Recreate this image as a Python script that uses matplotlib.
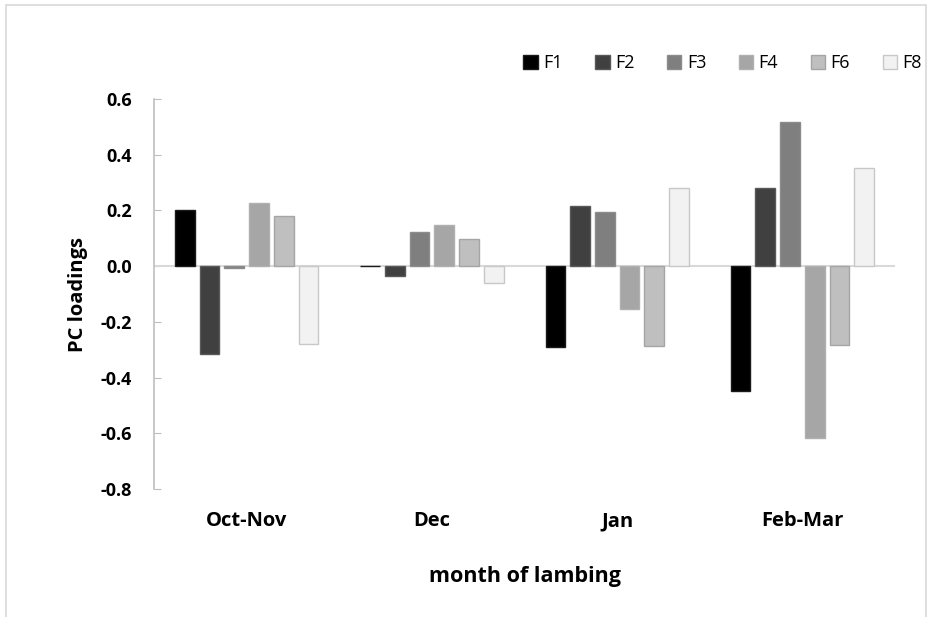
import numpy as np
import matplotlib.pyplot as plt
from matplotlib.patches import Rectangle

# data
months = ['Oct-Nov', 'Dec', 'Jan', 'Feb-Mar']
factors = ['F1', 'F2', 'F3', 'F4', 'F6', 'F8']
f1 = [0.20, 0.0, -0.29, -0.448]
f2 = [-0.314, -0.034, 0.216, 0.279]
f3 = [-0.008, 0.124, 0.195, 0.517]
f4 = [0.225, 0.149, -0.153, -0.617]
f6 = [0.181, 0.096, -0.287, -0.284]
f8 = [-0.28, -0.062, 0.280, 0.353]
yticks = [-0.8, -0.6, -0.4, -0.2, 0.0, 0.2, 0.4, 0.6]

fills = ['#000000', '#404040', '#7f7f7f', '#a6a6a6', '#bfbfbf', '#f2f2f2']
edges = ['#1a1a1a', '#595959', '#8c8c8c', '#b0b0b0', '#a5a5a5', '#c8c8c8']

plt.rcParams['font.family'] = ['Open Sans', 'DejaVu Sans']

fig = plt.figure(figsize=(9.3, 6.17), dpi=100)
ax = fig.add_axes([0.1656, 0.2075, 0.7968, 0.632])

# light outer border like the chart area frame
fig.patches.append(Rectangle((6 / 930, -0.01), 920 / 930, 1 - 5 / 617 + 0.01,
                             transform=fig.transFigure, fill=False,
                             edgecolor='#d9d9d9', linewidth=1.2))

x = np.arange(len(months))
step = 0.1335
width = 0.106
series = [f1, f2, f3, f4, f6, f8]
for i, vals in enumerate(series):
    ax.bar(x + (i - 2.5) * step, vals, width, color=fills[i],
           edgecolor=edges[i], linewidth=1.0, label=factors[i], zorder=3)

ax.set_xlim(-0.5, 3.5)
ax.set_ylim(-0.8, 0.6)
ax.set_yticks(yticks)
ax.set_yticklabels(['%.1f' % v for v in yticks], fontweight='bold', fontsize=13)
ax.set_xticks(x)
ax.set_xticklabels(months, fontweight='bold', fontsize=14.5)
ax.tick_params(axis='x', length=0, pad=16)
ax.tick_params(axis='y', direction='in', length=5, color='#bfbfbf', pad=16)

ax.axhline(0, color='#d9d9d9', linewidth=1.5, zorder=2)
for s in ['top', 'right', 'bottom']:
    ax.spines[s].set_visible(False)
ax.spines['left'].set_color('#bfbfbf')
ax.spines['left'].set_linewidth(1.2)

ax.set_ylabel('PC loadings', fontweight='bold', fontsize=14.5, labelpad=9)
ax.set_xlabel('month of lambing', fontweight='bold', fontsize=15.5, labelpad=25)

fig.legend(loc='center', bbox_to_anchor=(0.777, 0.898), ncol=6, frameon=False,
           fontsize=13, handlelength=0.8, handleheight=0.8, handletextpad=0.3,
           columnspacing=1.8)

fig.savefig('out.png', dpi=100)
